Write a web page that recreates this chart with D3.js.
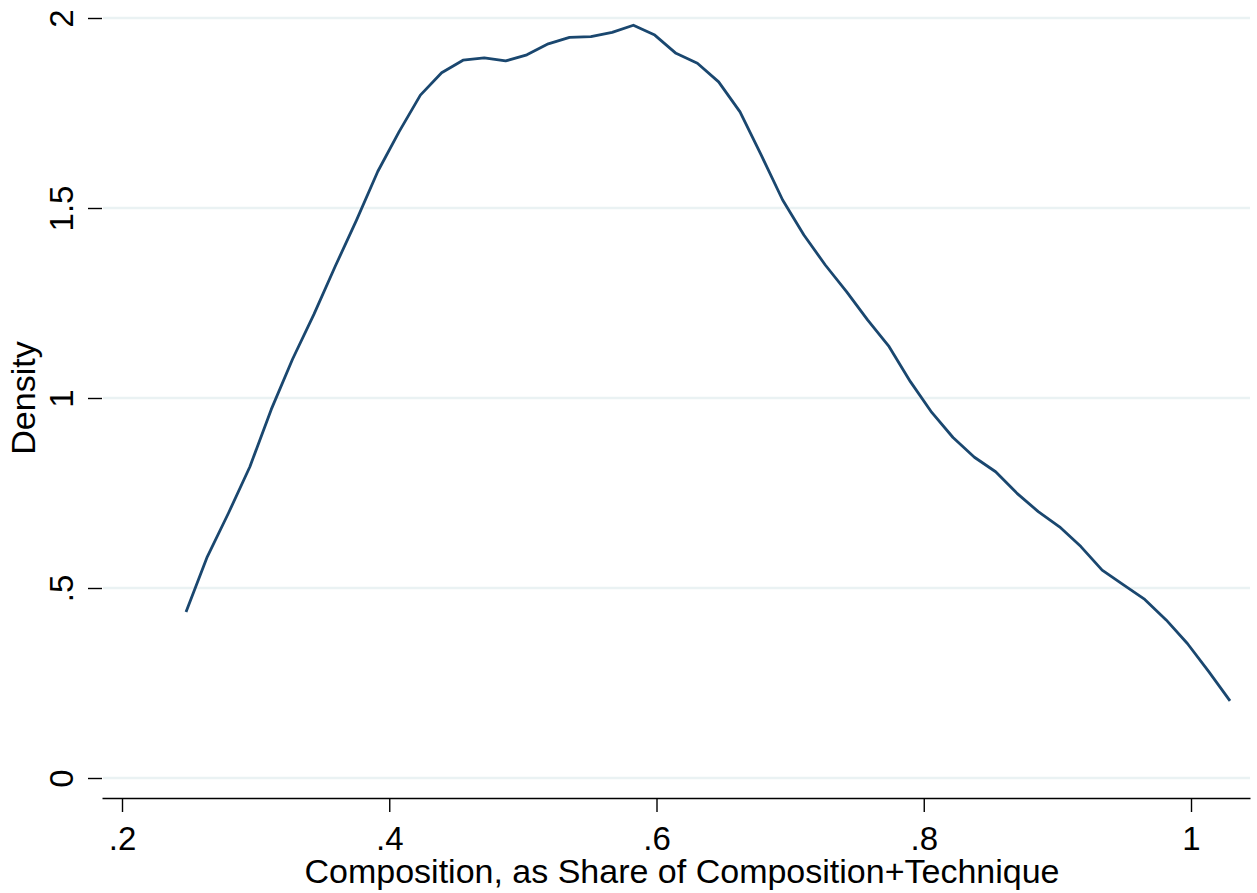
<!DOCTYPE html>
<html>
<head>
<meta charset="utf-8">
<script src="https://cdn.jsdelivr.net/npm/d3@7"></script>
<style>
  body { margin: 0; background: #fff; }
  svg { display: block; font-family: "Liberation Sans", Arial, sans-serif; }
</style>
</head>
<body>
<div class="graph-pane"></div>
<script>
// kernel density estimate, 50 evaluation points
const xPoints = [0.2479, 0.2638, 0.2798, 0.2957, 0.3117, 0.3276, 0.3436, 0.3595, 0.3755, 0.3914,
  0.4074, 0.4233, 0.4392, 0.4552, 0.4711, 0.4871, 0.5030, 0.5190, 0.5349, 0.5509,
  0.5668, 0.5827, 0.5987, 0.6146, 0.6306, 0.6465, 0.6625, 0.6784, 0.6944, 0.7103,
  0.7263, 0.7422, 0.7581, 0.7741, 0.7900, 0.8060, 0.8219, 0.8379, 0.8538, 0.8698,
  0.8857, 0.9016, 0.9176, 0.9335, 0.9495, 0.9654, 0.9814, 0.9973, 1.0133, 1.0292];
const density = [0.437, 0.582, 0.698, 0.819, 0.970, 1.102, 1.220, 1.346, 1.468, 1.596,
  1.701, 1.797, 1.856, 1.889, 1.895, 1.887, 1.903, 1.932, 1.949, 1.951,
  1.962, 1.981, 1.955, 1.907, 1.881, 1.832, 1.753, 1.639, 1.521, 1.429,
  1.350, 1.280, 1.205, 1.135, 1.043, 0.962, 0.896, 0.844, 0.806, 0.749,
  0.701, 0.661, 0.609, 0.547, 0.508, 0.470, 0.416, 0.354, 0.280, 0.203];

const xTicks = [0.2, 0.4, 0.6, 0.8, 1];
const yTicks = [0, 0.5, 1, 1.5, 2];
const xTitle = "Composition, as Share of Composition+Technique";
const yTitle = "Density";

const width = 1257, height = 893;
const left = 102, right = 1250;

// stata style labels: .2 instead of 0.2
const stataFmt = (d) => String(d).replace(/^0\./, ".");

const svg = d3.select(".graph-pane")
  .append("svg")
  .attr("width", width)
  .attr("height", height);

const xScale = d3.scaleLinear()
  .domain([0.18503, 1.04415])
  .range([left, right]);

const yScale = d3.scaleLinear()
  .domain([0, 2])
  .range([778, 18]);

// gridlines
svg.append("g")
  .selectAll("line")
  .data(yTicks)
  .join("line")
  .attr("x1", left + 1)
  .attr("x2", right)
  .attr("y1", (d) => yScale(d))
  .attr("y2", (d) => yScale(d))
  .style("stroke", "#eaf2f3")
  .style("stroke-width", 2.6);

// y axis, no axis line
const yAxis = d3.axisLeft(yScale).tickValues(yTicks).tickSize(14).tickFormat(stataFmt);
const gy = svg.append("g")
  .attr("transform", "translate(" + left + ",0)")
  .call(yAxis);
gy.select(".domain").remove();
gy.selectAll(".tick line").style("stroke", "#000").style("stroke-width", 1.4);
gy.selectAll(".tick text")
  .attr("x", 0)
  .attr("dy", 0)
  .attr("transform", "translate(-29,0) rotate(-90)")
  .attr("text-anchor", "middle")
  .style("font-size", "33px")
  .style("font-family", "'Liberation Sans', Arial, sans-serif")
  .style("fill", "#000");

// x axis
const xAxis = d3.axisBottom(xScale).tickValues(xTicks).tickSize(14).tickSizeOuter(0).tickFormat(stataFmt);
const gx = svg.append("g")
  .attr("transform", "translate(0,798)")
  .call(xAxis);
gx.select(".domain").style("stroke", "#000").style("stroke-width", 1.6);
gx.selectAll(".tick line").style("stroke", "#000").style("stroke-width", 1.4);
gx.selectAll(".tick text")
  .attr("y", 52)
  .attr("dy", 0)
  .style("font-size", "33px")
  .style("font-family", "'Liberation Sans', Arial, sans-serif")
  .style("fill", "#000");

// density curve
const line = d3.line()
  .x((d, i) => xScale(xPoints[i]))
  .y((d) => yScale(d));

svg.append("path")
  .datum(density)
  .attr("d", line)
  .style("fill", "none")
  .style("stroke", "#1a476f")
  .style("stroke-width", 2.8)
  .style("stroke-linejoin", "round");

// axis titles
svg.append("text")
  .attr("x", 682)
  .attr("y", 883)
  .attr("text-anchor", "middle")
  .style("font-size", "34px")
  .text(xTitle);

svg.append("text")
  .attr("transform", "translate(35,398) rotate(-90)")
  .attr("text-anchor", "middle")
  .style("font-size", "34px")
  .text(yTitle);
</script>
</body>
</html>
